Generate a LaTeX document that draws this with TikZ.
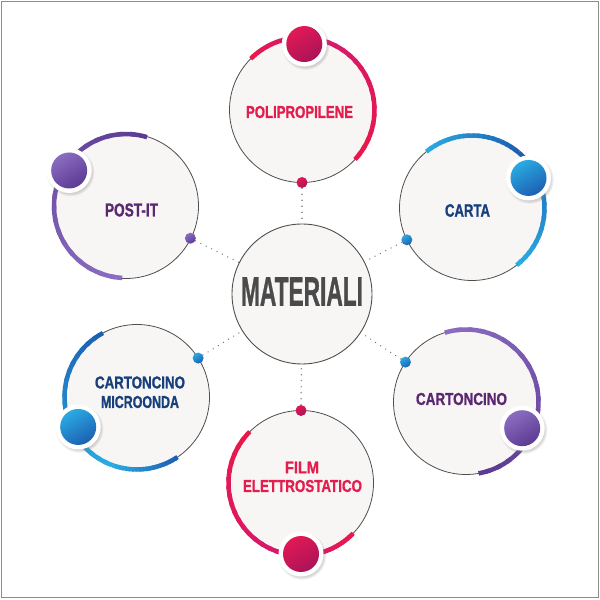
\documentclass[tikz,border=0pt]{standalone}
\usepackage{fontspec}
\setmainfont{Liberation Sans}
\newfontfamily\heavyfont[FakeBold=1.3]{Liberation Sans}
\usepackage{graphicx}
\usetikzlibrary{shadows,calc}
\definecolor{red1}{HTML}{E8194A}
\definecolor{mag1}{HTML}{D5186F}
\definecolor{cyan1}{HTML}{2AABE2}
\definecolor{blue1}{HTML}{1D5FB2}
\definecolor{pur1}{HTML}{8A6DC0}
\definecolor{pur2}{HTML}{5C3B93}
\definecolor{txtred}{HTML}{E31E4E}
\definecolor{txtblue}{HTML}{173F7C}
\definecolor{txtpur}{HTML}{5A2771}
\definecolor{txtgray}{HTML}{4A4A4A}
\definecolor{circfill}{HTML}{F8F6F5}
\definecolor{outline}{HTML}{4F4F4F}
\colorlet{pinkA}{red1!70!mag1}
\colorlet{pinkB}{mag1!80!black}
\newcommand{\gradarc}[6]{%
  \foreach \k in {0,...,19}{%
    \pgfmathsetmacro{\gA}{#3+(#4-#3)*\k/20}%
    \pgfmathsetmacro{\gB}{#3+(#4-#3)*min(\k+1.4,20)/20}%
    \pgfmathtruncatemacro{\gP}{100-100*\k/19}%
    \draw[thickarc, draw={#5!\gP!#6}] (#1) ++(\gA:#2) arc[start angle=\gA, end angle=\gB, radius=#2];
  }%
}
\tikzset{
  sat/.style={circle, minimum size=145pt, inner sep=0pt, fill=circfill, draw=outline, line width=0.8pt},
  maincirc/.style={circle, minimum size=140pt, inner sep=0pt, fill=circfill, draw=outline, line width=0.9pt},
  thickarc/.style={line width=4.5pt, line cap=butt},
  ring/.style={circle, minimum size=45pt, inner sep=0pt, fill=white,
    circular drop shadow={shadow xshift=1pt, shadow yshift=-1.5pt, shadow scale=1.08, opacity=0.35}},
  bigdot/.style={circle, minimum size=36pt, inner sep=0pt},
  smalldot/.style={circle, minimum size=11pt, inner sep=0pt},
  pinkshade/.style={top color=pinkA, bottom color=pinkB, shading angle=30},
  blueshade/.style={top color=cyan1, bottom color=blue1, shading angle=30},
  purshade/.style={top color=pur1, bottom color=pur2, shading angle=30},
  txt/.style={inner sep=0pt, font=\heavyfont\bfseries},
  conn/.style={draw=black!55, line width=1.4pt, line cap=round, dash pattern=on 0.01pt off 6pt},
}
\begin{document}
\begin{tikzpicture}[x=1pt, y=1pt]
\useasboundingbox (0,0) rectangle (600,600);
\draw[black!45, line width=0.8pt] (1,3) rectangle (598.5,599);

% main
\node[maincirc] (main) at (302,306) {};
\node[txt, text=txtgray] (mainlabel) at (302,308.5) {\resizebox{122pt}{28pt}{MATERIALI}};

% POLIPROPILENE
\node[sat] (P) at (302,490) {};
\gradarc{P.center}{72.5}{135}{90}{red1}{mag1}
\gradarc{P.center}{72.5}{90}{-43}{mag1}{red1}
\node[ring] (Pring) at ($(P.center)+(88:66)$) {};
\node[bigdot, pinkshade] (Pbig) at (Pring) {};
\node[smalldot, pinkshade] (Psmall) at ($(P.center)+(270:72.5)$) {};
\node[txt, text=txtred] (Ptext) at (299.5,488) {\resizebox{107pt}{12pt}{POLIPROPILENE}};

% CARTA
\node[sat] (C) at (472,392) {};
\gradarc{C.center}{72.5}{129}{50}{cyan1}{blue1}
\gradarc{C.center}{72.5}{50}{-52}{blue1}{cyan1}
\node[ring] (Cring) at ($(C.center)+(28:64)$) {};
\node[bigdot, blueshade] (Cbig) at (Cring) {};
\node[smalldot, blueshade] (Csmall) at ($(C.center)+(206:72.5)$) {};
\node[txt, text=txtblue] (Ctext) at (467.5,389.5) {\resizebox{45pt}{12.5pt}{CARTA}};

% POST-IT
\node[sat] (I) at (126,394) {};
\gradarc{I.center}{72}{73}{267}{pur2}{pur1}
\node[ring] (Iring) at ($(I.center)+(148:67)$) {};
\node[bigdot, purshade] (Ibig) at (Iring) {};
\node[smalldot, purshade] (Ismall) at ($(I.center)+(-26.6:72)$) {};
\node[txt, text=txtpur] (Itext) at (131.5,390) {\resizebox{53pt}{13pt}{POST-IT}};

% CARTONCINO
\node[sat] (T) at (466,198) {};
\gradarc{T.center}{72.5}{107}{-80}{pur1}{pur2}
\node[ring] (Tring) at ($(T.center)+(-25:62)$) {};
\node[bigdot, purshade] (Tbig) at (Tring) {};
\node[smalldot, blueshade] (Tsmall) at ($(T.center)+(146.6:72.5)$) {};
\node[txt, text=txtpur] (Ttext) at (461.5,201) {\resizebox{91pt}{12pt}{CARTONCINO}};

% CARTONCINO MICROONDA
\node[sat] (M) at (137,203) {};
\gradarc{M.center}{72.5}{118}{250}{blue1}{cyan1}
\gradarc{M.center}{72.5}{250}{304}{cyan1}{blue1}
\node[ring] (Mring) at ($(M.center)+(207:66)$) {};
\node[bigdot, blueshade] (Mbig) at (Mring) {};
\node[smalldot, blueshade] (Msmall) at ($(M.center)+(32.5:72.5)$) {};
\node[txt, text=txtblue] (Mtext1) at (140,217.5) {\resizebox{90pt}{12pt}{CARTONCINO}};
\node[txt, text=txtblue] (Mtext2) at (140,198) {\resizebox{78pt}{12pt}{MICROONDA}};

% FILM ELETTROSTATICO
\node[sat] (F) at (301,117) {};
\gradarc{F.center}{72.5}{135}{270}{red1}{mag1}
\gradarc{F.center}{72.5}{270}{316}{mag1}{red1}
\node[ring] (Fring) at ($(F.center)+(270:71)$) {};
\node[bigdot, pinkshade] (Fbig) at (Fring) {};
\node[smalldot, pinkshade] (Fsmall) at ($(F.center)+(90:72.5)$) {};
\node[txt, text=txtred] (Ftext1) at (302,132.5) {\resizebox{34pt}{11.5pt}{FILM}};
\node[txt, text=txtred] (Ftext2) at (302.5,114) {\resizebox{119pt}{12pt}{ELETTROSTATICO}};

% connectors
\draw[conn] (Psmall) -- (main);
\draw[conn] (Csmall) -- (main);
\draw[conn] (Ismall) -- (main);
\draw[conn] (Tsmall) -- (main);
\draw[conn] (Msmall) -- (main);
\draw[conn] (Fsmall) -- (main);
\end{tikzpicture}
\end{document}
